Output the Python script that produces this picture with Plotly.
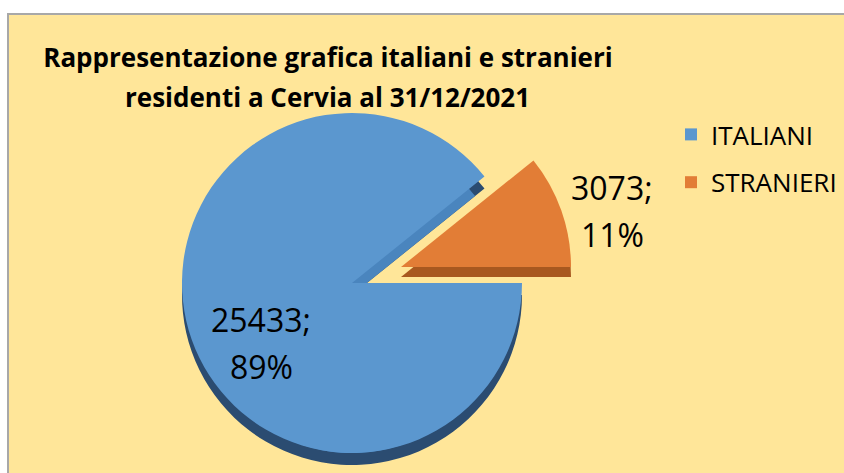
import plotly.graph_objects as go

# ---- data ----
labels = ["ITALIANI", "STRANIERI"]
values = [25433, 3073]
colors = ["#5B97CF", "#E27D36"]
depth_colors = ["#2B4C71", "#A8581F"]
side_color = "#4A85BE"
title_lines = ["Rappresentazione grafica italiani e stranieri",
               "residenti a Cervia al 31/12/2021"]

W, H = 844, 473
FONT = "Open Sans, Noto Sans, sans-serif"
CLEAR = "rgba(0,0,0,0)"

total = sum(values)
pcts = [round(v / total * 100) for v in values]


def dom(cx, cy, r):
    return dict(x=[(cx - r) / W, (cx + r) / W],
                y=[(H - cy - r) / H, (H - cy + r) / H])


R = 170
CX, CY = 352, 283          # main pie centre (px)
EX, EY = 49, -16           # explode offset of the foreign-residents slice
DEPTH_BLUE, DEPTH_ORANGE = 12, 10

fig = go.Figure()

# legend-only traces (tiny, hidden beneath the main pie)
for i, (lab, col) in enumerate(zip(labels, colors)):
    fig.add_trace(go.Pie(
        labels=[lab], values=[values[i]], sort=False,
        marker=dict(colors=[col], line=dict(width=0)),
        textinfo="none", hoverinfo="skip",
        domain=dom(CX, CY, 0.5), legendgroup=lab, showlegend=True))


def pie(cols, cx, cy, r=R):
    return go.Pie(labels=labels, values=values, sort=False, direction="clockwise",
                  rotation=90, marker=dict(colors=cols, line=dict(width=0)),
                  textinfo="none", hoverinfo="label+value+percent",
                  domain=dom(cx, cy, r), showlegend=False)


# 3D depth layers
fig.add_trace(pie([depth_colors[0], CLEAR], CX, CY + DEPTH_BLUE))
fig.add_trace(pie([side_color, CLEAR], CX, CY + DEPTH_BLUE, R - DEPTH_BLUE))
fig.add_trace(pie([CLEAR, depth_colors[1]], CX + EX, CY + EY + DEPTH_ORANGE))
# top faces
fig.add_trace(pie([colors[0], CLEAR], CX, CY))
fig.add_trace(pie([CLEAR, colors[1]], CX + EX, CY + EY))

# data labels  "value;" / "pct%"
label_pos = [(261, 319, 366), (612, 187, 234)]
annotations = []
for i, (x, y1, y2) in enumerate(label_pos):
    for txt, y in ((f"{values[i]};", y1), (f"{pcts[i]}%", y2)):
        annotations.append(dict(
            text=txt, x=x / W, y=1 - y / H, xref="paper", yref="paper",
            xanchor="center", yanchor="middle", showarrow=False,
            font=dict(family=FONT, size=32, color="#000000")))

# second title line
annotations.append(dict(
    text="<b>" + title_lines[1] + "</b>", x=327 / W, y=1 - 97 / H,
    xref="paper", yref="paper", xanchor="center", yanchor="middle",
    showarrow=False, font=dict(family=FONT, size=26, color="#000000")))

fig.update_layout(
    width=W, height=H,
    margin=dict(l=0, r=0, t=0, b=0),
    paper_bgcolor="#FFFFFF",
    plot_bgcolor="#FFFFFF",
    title=dict(
        text="<b>" + title_lines[0] + "</b>",
        x=328 / W, xanchor="center", xref="paper",
        y=1 - 58 / H, yanchor="middle", yref="paper",
        font=dict(family=FONT, size=26, color="#000000")),
    legend=dict(
        x=671 / W, xanchor="left", y=1 - 111 / H, yanchor="top",
        font=dict(family=FONT, size=26, color="#000000"),
        bgcolor=CLEAR, borderwidth=0, traceorder="grouped", tracegroupgap=11),
    shapes=[dict(type="rect", xref="paper", yref="paper",
                 x0=8 / W, x1=1.02, y0=-0.02, y1=1 - 14 / H,
                 fillcolor="#FFE699", line=dict(color="#A8A8A8", width=2),
                 layer="below")],
    annotations=annotations,
)

fig.write_html(
    "out.html",
    config={"displayModeBar": False},
    post_script="document.body.style.margin='0';document.body.style.overflow='hidden';",
)
